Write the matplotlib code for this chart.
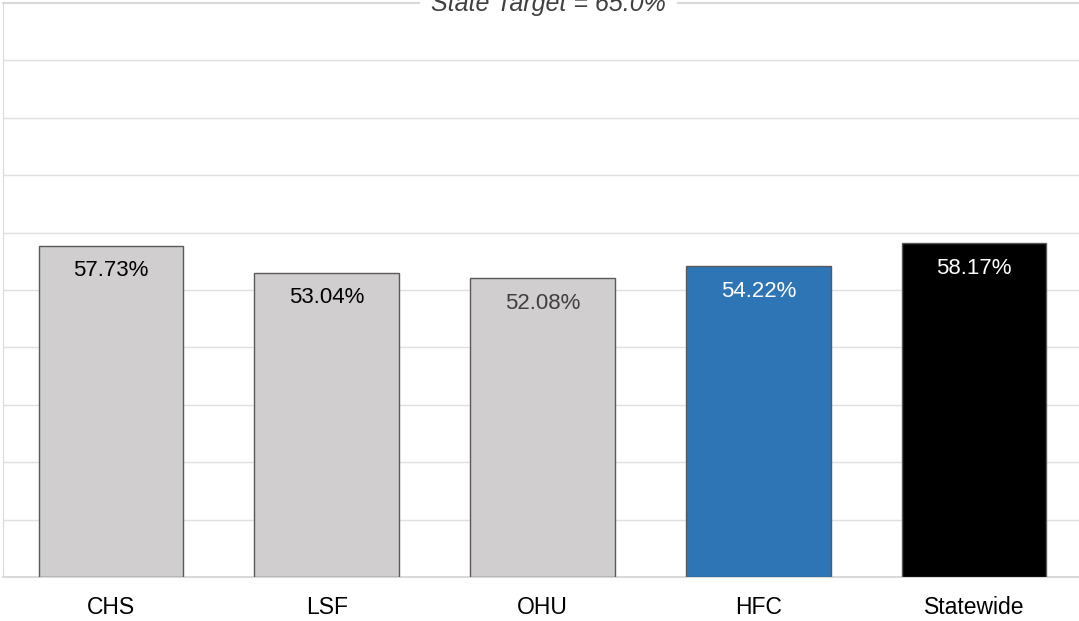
import numpy as np
import matplotlib.pyplot as plt

plt.rcParams['font.family'] = ['Liberation Sans', 'DejaVu Sans']

categories = ['CHS', 'LSF', 'OHU', 'HFC', 'Statewide']
values = [57.73, 53.04, 52.08, 54.22, 58.17]
bar_colors = ['#D0CECE', '#D0CECE', '#D0CECE', '#2E75B6', '#000000']
label_colors = ['#000000', '#000000', '#404040', '#FFFFFF', '#FFFFFF']
target_label = 'State Target = 65.0%'

fig = plt.figure(figsize=(10.79, 6.21), dpi=100)
ax = fig.add_axes([3 / 1079, 44 / 621, 1079 / 1079, 574 / 621])

x = np.arange(len(categories))
ax.bar(x, values, width=0.67, color=bar_colors, edgecolor='#595959',
       linewidth=1.0, zorder=3)

for xi, v, c in zip(x, values, label_colors):
    ax.text(xi, v - 4.4, f'{v:.2f}%', ha='center', va='center',
            fontsize=16, color=c, zorder=4)

ax.set_xlim(-0.5, 4.5)
ax.set_ylim(0, 100)
ax.set_yticks(np.arange(10, 100, 10))
ax.yaxis.grid(True, color='#E0E0E0', linewidth=1.0, zorder=0)
ax.tick_params(axis='y', left=False, labelleft=False)
ax.tick_params(axis='x', bottom=False, labelsize=16.5, pad=10)
ax.set_xticks(x)
ax.set_xticklabels(categories)

# target line across the top
ax.axhline(100, color='#D9D9D9', linewidth=1.5, zorder=1, clip_on=False)
ax.text(2.028, 98.6, target_label, ha='center', va='baseline', fontsize=18,
        style='italic', color='#404040', zorder=5, clip_on=False,
        bbox=dict(facecolor='white', edgecolor='none', pad=8))

for s in ['top', 'right']:
    ax.spines[s].set_visible(False)
ax.spines['left'].set_color('#D9D9D9')
ax.spines['bottom'].set_color('#D9D9D9')
ax.spines['bottom'].set_linewidth(1.5)

plt.savefig('out.png', dpi=100)
